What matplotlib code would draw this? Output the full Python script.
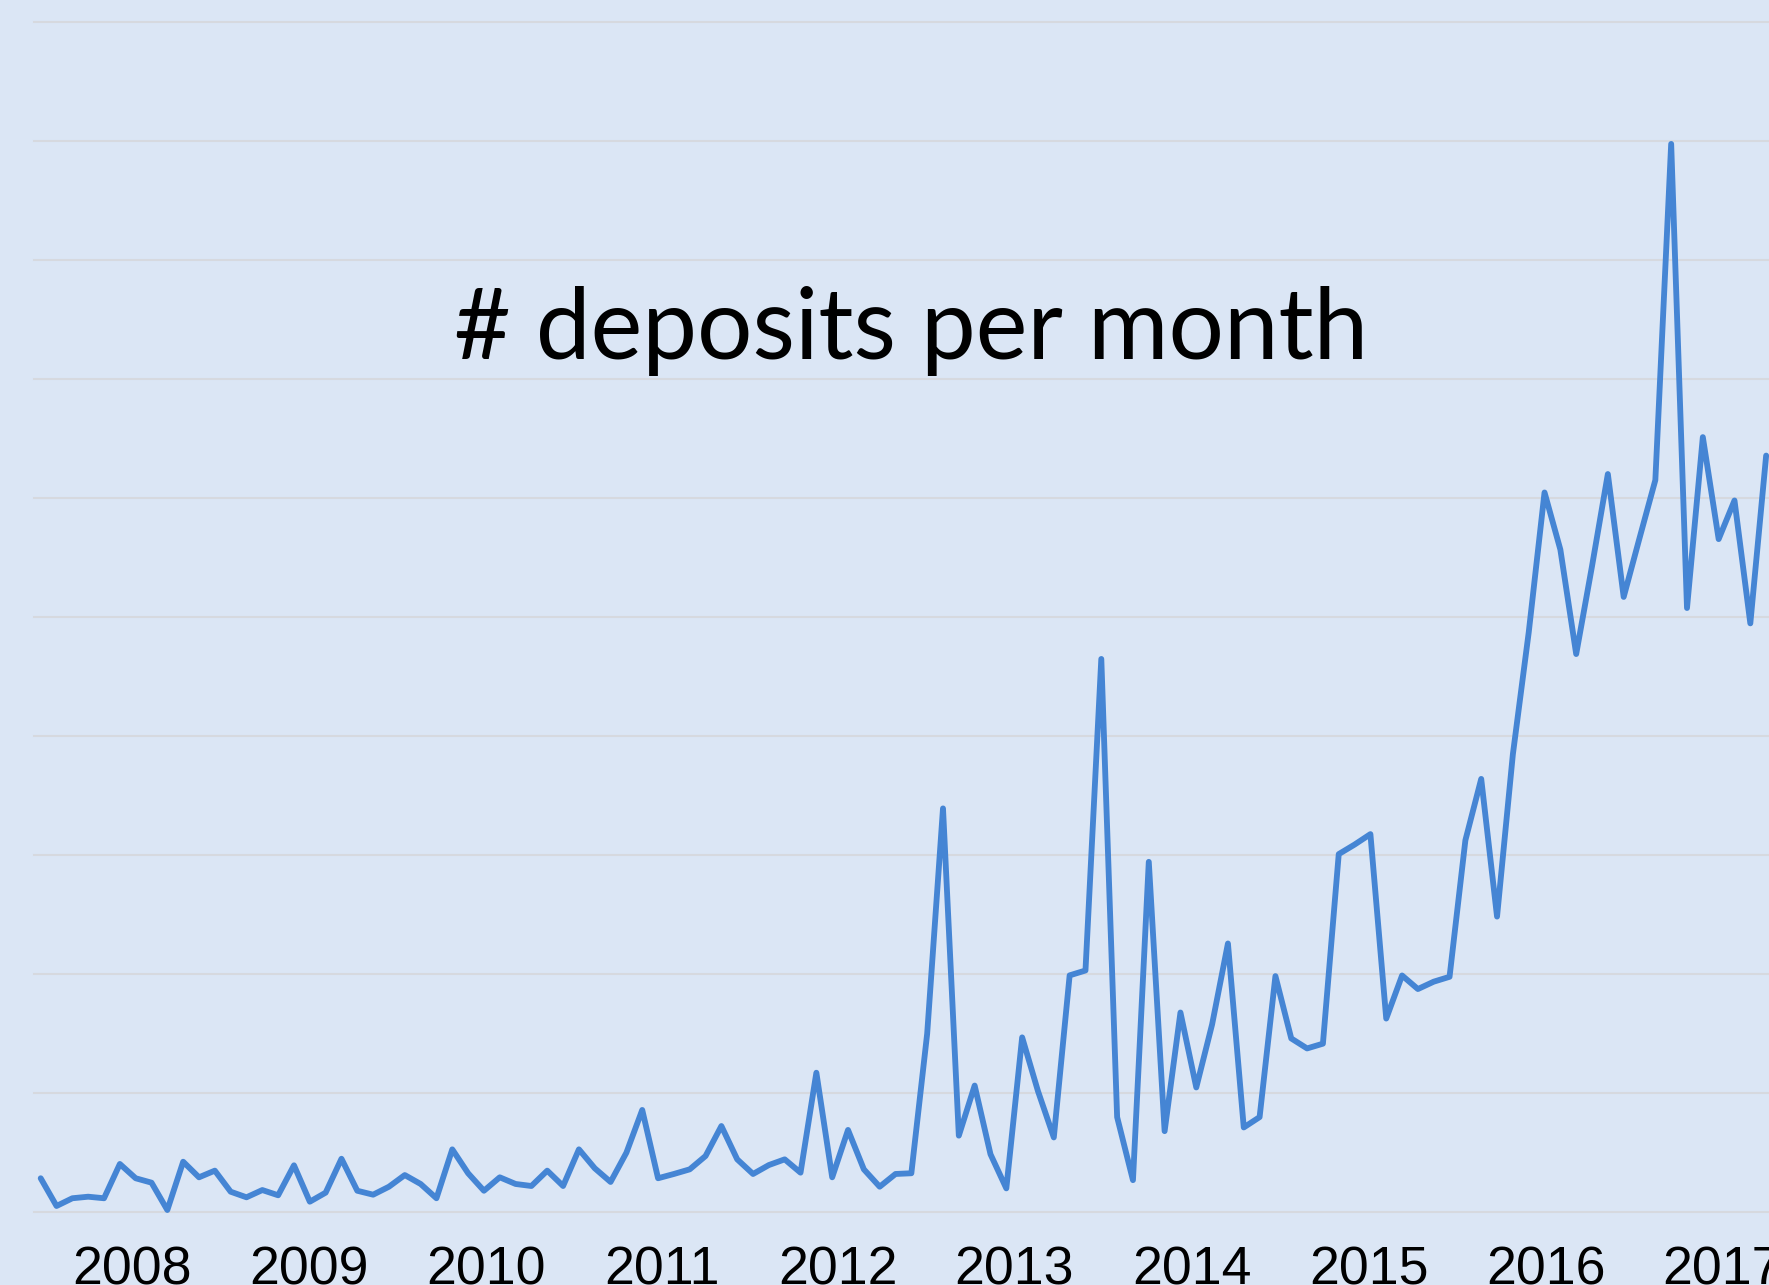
import matplotlib
matplotlib.use("Agg")
import matplotlib.pyplot as plt
import matplotlib.transforms as mtransforms
import numpy as np

# -----------------------------------------------------------------------------
# Data (one value per month)
deposits = [
    28.1, 4.8, 11.3, 12.6, 11.3, 40.1, 28.1, 24.4, 1.4, 42.0,
    28.9, 34.5, 16.8, 12.1, 18.2, 13.8, 39.0, 8.4, 16.0, 44.5,
    17.6, 14.3, 21.0, 30.8, 23.3, 11.3, 52.4, 32.3, 17.6, 28.9,
    23.3, 21.6, 34.5, 21.6, 52.4, 36.5, 25.0, 49.6, 85.5, 28.1,
    31.7, 35.6, 46.8, 72.0, 44.0, 31.7, 39.2, 44.0, 32.8, 116.8,
    28.9, 68.7, 35.6, 21.0, 31.7, 32.3, 149.6, 338.9, 63.9, 106.0,
    48.3, 19.6, 146.5, 101.3, 62.4, 198.6, 202.7, 464.5, 79.5, 26.5,
    294.0, 67.7, 167.4, 104.4, 157.4, 225.4, 70.8, 79.5, 198.0, 145.6,
    137.2, 141.2, 300.5, 308.5, 317.3, 162.3, 198.5, 187.1, 193.3, 197.4,
    312.1, 363.7, 248.0, 384.4, 486.7, 604.4, 556.4, 468.6, 542.5, 619.9,
    516.6, 566.0, 614.8, 897.3, 507.3, 650.9, 565.2, 597.7, 494.4, 635.4,
]
years = ["2008", "2009", "2010", "2011", "2012", "2013", "2014", "2015", "2016", "2017"]
year_positions = [5.77, 16.95, 28.14, 39.26, 50.38, 61.50, 72.76, 83.94, 95.12, 106.24]

title = "# deposits per month"

# -----------------------------------------------------------------------------
W, H = 1769, 1285
bg = "#DBE6F5"
line_colour = "#4585D4"
grid_colour = "#D6D9DF"

fig = plt.figure(figsize=(W / 100, H / 100), dpi=100, facecolor=bg)
ax = fig.add_axes([33.8 / W, (H - 1211.7) / H, 1 - 33.8 / W, (1211.7 - 21.7) / H])
ax.set_facecolor(bg)

months = np.arange(len(deposits))
ax.plot(months, deposits, color=line_colour, linewidth=4.2,
        solid_joinstyle="round", solid_capstyle="round", clip_on=False, zorder=3)

ax.set_xlim(-0.436, 109.18)
ax.set_ylim(0, 1000)

for v in range(0, 1001, 100):
    ax.axhline(v, color=grid_colour, linewidth=1.5, zorder=1, clip_on=False)

for s in ax.spines.values():
    s.set_visible(False)
ax.set_xticks([])
ax.set_yticks([])

# year labels below the axis (the bottom edge of the picture cuts them a little)
trans = mtransforms.blended_transform_factory(ax.transData, fig.transFigure)
for yr, pos in zip(years, year_positions):
    ax.text(pos, (H - 1284.5) / H, yr, transform=trans, ha="center", va="baseline",
            fontsize=38.6, family="Liberation Sans", color="black", clip_on=False)

# title inside the plot, sized to its width in the picture
t = fig.text(911 / W, (H - 359.3) / H, title, ha="center", va="baseline",
             fontsize=60, family="Lato", color="black")
fig.canvas.draw()
bb = t.get_window_extent()
t.set_fontsize(60 * 916 / bb.width)

fig.savefig("out.png", dpi=100, facecolor=bg)
